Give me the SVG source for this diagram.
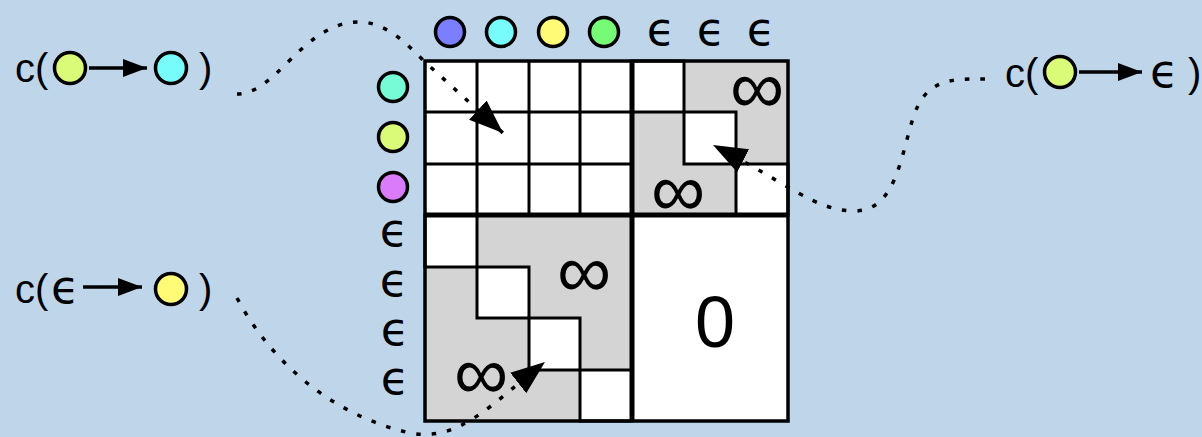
<svg xmlns="http://www.w3.org/2000/svg" width="1202" height="437" viewBox="0 0 1202 437">
<style>
.bg{fill:#bfd6ea}
.w{fill:#ffffff}
.g{fill:#d4d4d4}
.cell{stroke:#000;stroke-width:3;stroke-linejoin:miter}
.ln{stroke:#000;stroke-width:3;fill:none}
.thick{stroke:#000;stroke-width:5;fill:none}
.dot{stroke:#000;stroke-width:3.5}
.t{font-family:"Liberation Sans",Arial,sans-serif;fill:#000}
.eps{font-family:"DejaVu Sans",sans-serif;font-size:46px;fill:#000}
.inf{font-family:"Liberation Sans",Arial,sans-serif;font-size:76px;fill:#000}
.conn{stroke:#000;stroke-width:3.5;fill:none;stroke-dasharray:4.5 11}
.arr{stroke:#000;stroke-width:3.5;fill:none}
</style>
<defs>
<marker id="bigHead" markerUnits="userSpaceOnUse" markerWidth="36" markerHeight="28" viewBox="0 0 36 28" refX="34" refY="13" orient="auto">
<path d="M0,0 L34,13 L0,26 z" fill="#000"/>
</marker>
<marker id="smallHead" markerUnits="userSpaceOnUse" markerWidth="26" markerHeight="20" viewBox="0 0 26 20" refX="24" refY="9" orient="auto">
<path d="M0,0 L24,9 L0,18 z" fill="#000"/>
</marker>
</defs>
<rect class="bg" x="0" y="0" width="1202" height="437"/>

<g id="matrix">
<rect class="w" x="425" y="61" width="207" height="154"/>
<rect class="g" x="632" y="61" width="156" height="154"/>
<rect class="g" x="425" y="215" width="207" height="206"/>
<rect class="w" x="632" y="215" width="156" height="206"/>
<g class="ln">
<line x1="477" y1="61" x2="477" y2="215"/>
<line x1="529" y1="61" x2="529" y2="215"/>
<line x1="580" y1="61" x2="580" y2="215"/>
<line x1="425" y1="112" x2="632" y2="112"/>
<line x1="425" y1="164" x2="632" y2="164"/>
</g>
<g class="cell w">
<rect x="632" y="61" width="52" height="51"/>
<rect x="684" y="112" width="52" height="52"/>
<rect x="736" y="164" width="52" height="51"/>
<rect x="425" y="215" width="52" height="52"/>
<rect x="477" y="267" width="52" height="51"/>
<rect x="529" y="318" width="51" height="52"/>
<rect x="580" y="370" width="52" height="51"/>
</g>
<line class="thick" x1="632" y1="61" x2="632" y2="421"/>
<line class="thick" x1="425" y1="215" x2="788" y2="215"/>
<rect x="425" y="61" width="363" height="360" fill="none" stroke="#000" stroke-width="3.5"/>
<text class="inf" x="757" y="86" text-anchor="middle" dominant-baseline="central">∞</text>
<text class="inf" x="678" y="189" text-anchor="middle" dominant-baseline="central">∞</text>
<text class="inf" x="584" y="270" text-anchor="middle" dominant-baseline="central">∞</text>
<text class="inf" x="481" y="372" text-anchor="middle" dominant-baseline="central">∞</text>
<text class="t" x="715" y="347" font-size="72" text-anchor="middle">0</text>
</g>

<g id="col-headers">
<circle class="dot" cx="450" cy="32" r="14.5" fill="#7b7fff"/>
<circle class="dot" cx="501" cy="32" r="14.5" fill="#77fbfb"/>
<circle class="dot" cx="553" cy="32" r="14.5" fill="#fffb77"/>
<circle class="dot" cx="604" cy="32" r="14.5" fill="#77fb77"/>
<text class="eps" x="661" y="45" text-anchor="middle">ϵ</text>
<text class="eps" x="711" y="45" text-anchor="middle">ϵ</text>
<text class="eps" x="761" y="45" text-anchor="middle">ϵ</text>
</g>

<g id="row-headers">
<circle class="dot" cx="393" cy="87" r="14.5" fill="#77fbd7"/>
<circle class="dot" cx="393" cy="137" r="14.5" fill="#d9fb77"/>
<circle class="dot" cx="393" cy="187" r="14.5" fill="#d97bfb"/>
<text class="eps" x="394" y="246" text-anchor="middle">ϵ</text>
<text class="eps" x="394" y="296" text-anchor="middle">ϵ</text>
<text class="eps" x="395" y="345" text-anchor="middle">ϵ</text>
<text class="eps" x="395" y="394" text-anchor="middle">ϵ</text>
</g>

<g id="label-sub">
<text class="t" x="15" y="82" font-size="40">c(</text>
<circle class="dot" cx="70" cy="68" r="15.5" fill="#d9fb77"/>
<line class="arr" x1="89" y1="68" x2="147" y2="68" marker-end="url(#smallHead)"/>
<circle class="dot" cx="171" cy="68" r="15.5" fill="#77fbfb"/>
<text class="t" x="199" y="82" font-size="40">)</text>
</g>

<g id="label-del">
<text class="t" x="1005" y="87" font-size="40">c(</text>
<circle class="dot" cx="1060" cy="72" r="15.5" fill="#d9fb77"/>
<line class="arr" x1="1079" y1="72" x2="1142" y2="72" marker-end="url(#smallHead)"/>
<text class="eps" x="1150" y="87">ϵ</text>
<text class="t" x="1188" y="87" font-size="40">)</text>
</g>

<g id="label-ins">
<text class="t" x="15" y="303" font-size="40">c(</text>
<text class="eps" x="51" y="303">ϵ</text>
<line class="arr" x1="83" y1="287" x2="142" y2="287" marker-end="url(#smallHead)"/>
<circle class="dot" cx="171" cy="289" r="15.5" fill="#fffb77"/>
<text class="t" x="199" y="303" font-size="40">)</text>
</g>

<g id="connectors">
<path class="conn" d="M237 94 C255 94 270 80 290 60 C315 35 335 22 359 22 C385 22 405 42 425 62 L503 133" marker-end="url(#bigHead)"/>
<path class="conn" d="M985 79 C945 78 925 82 913 118 C900 160 895 212 853 211 C815 210 790 185 713 145" marker-end="url(#bigHead)"/>
<path class="conn" d="M237 298 C270 360 330 415 410 433 C460 442 490 405 545 362" marker-end="url(#bigHead)"/>
</g>
</svg>
